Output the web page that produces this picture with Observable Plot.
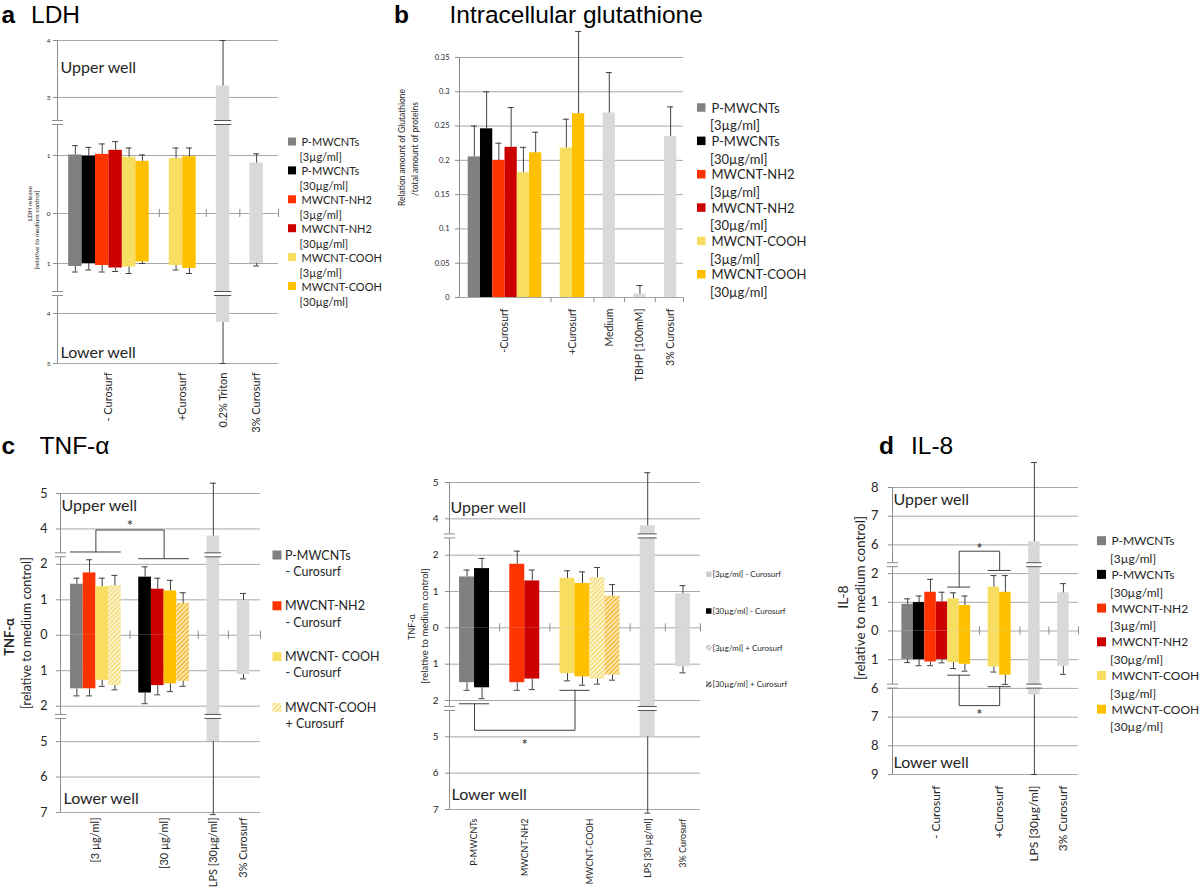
<!DOCTYPE html>
<html>
<head>
<meta charset="utf-8">
<script src="https://cdn.jsdelivr.net/npm/d3@7"></script>
<script src="https://cdn.jsdelivr.net/npm/@observablehq/plot@0.6"></script>
<style>
  html, body { margin: 0; padding: 0; background: #fff; overflow: hidden; }
  #root { position: relative; width: 1200px; height: 890px; overflow: hidden; background: #fff; }
</style>
</head>
<body>
<svg width="0" height="0" style="position:absolute">
  <defs>
    <pattern id="hatchLight" width="3.2" height="3.2" patternUnits="userSpaceOnUse" patternTransform="rotate(45)">
      <rect width="3.2" height="3.2" fill="#fdf5d2"/>
      <rect width="1.3" height="3.2" fill="#f4db6c"/>
    </pattern>
    <pattern id="hatchGold" width="3.2" height="3.2" patternUnits="userSpaceOnUse" patternTransform="rotate(45)">
      <rect width="3.2" height="3.2" fill="#fde9b4"/>
      <rect width="1.3" height="3.2" fill="#f2b32a"/>
    </pattern>
    <pattern id="hatchGray" width="3" height="3" patternUnits="userSpaceOnUse" patternTransform="rotate(45)">
      <rect width="3" height="3" fill="#f2f2f2"/>
      <rect width="1.2" height="3" fill="#b0b0b0"/>
    </pattern>
    <pattern id="hatchDark" width="3" height="3" patternUnits="userSpaceOnUse" patternTransform="rotate(45)">
      <rect width="3" height="3" fill="#dcdcdc"/>
      <rect width="1.2" height="3" fill="#2a2a2a"/>
    </pattern>
  </defs>
</svg>
<div id="root"></div>
<script>
// ---------------- series / legend ----------------
const seriesKey  = ["P3", "P30", "N3", "N30", "C3", "C30", "C3h", "C30h", "ctrl"];
const seriesFill = ["#808080", "#000000", "#ff3300", "#cc0000", "#f8de60", "#ffc000", "url(#hatchLight)", "url(#hatchGold)", "#d9d9d9"];
const legendNames = ["P-MWCNTs", "P-MWCNTs", "MWCNT-NH2", "MWCNT-NH2", "MWCNT-COOH", "MWCNT-COOH"];
const legendDoses = ["[3µg/ml]", "[30µg/ml]", "[3µg/ml]", "[30µg/ml]", "[3µg/ml]", "[30µg/ml]"];

// ---------------- a: LDH ----------------
const ldhCategories = ["- Curosurf", "+Curosurf", "0.2% Triton", "3% Curosurf"];
const ldhCategory = ["- Curosurf", "- Curosurf", "- Curosurf", "- Curosurf", "- Curosurf", "- Curosurf", "+Curosurf", "+Curosurf", "0.2% Triton", "3% Curosurf"];
const ldhSeries  = ["P3", "P30", "N3", "N30", "C3", "C30", "C3", "C30", "ctrl", "ctrl"];
const ldhUpper   = [1.01, 0.99, 1.02, 1.09, 0.97, 0.90, 0.95, 0.98, 3.20, 0.87];
const ldhUpperSD = [0.16, 0.15, 0.18, 0.15, 0.16, 0.11, 0.18, 0.15, 0.80, 0.16];
const ldhLower   = [1.06, 1.00, 1.04, 1.09, 1.07, 0.97, 1.04, 1.10, 4.18, 1.00];
const ldhLowerSD = [0.11, 0.13, 0.13, 0.07, 0.13, 0.03, 0.09, 0.10, 0.82, 0.05];
const ldhTicks   = [4, 3, 1, 0, -1, -4, -5];

// ---------------- b: glutathione ----------------
const gshCategories = ["-Curosurf", "+Curosurf", "Medium", "TBHP [100mM]", "3% Curosurf"];
const gshCategory = ["-Curosurf", "-Curosurf", "-Curosurf", "-Curosurf", "-Curosurf", "-Curosurf", "+Curosurf", "+Curosurf", "Medium", "TBHP [100mM]", "3% Curosurf"];
const gshSeries = ["P3", "P30", "N3", "N30", "C3", "C30", "C3", "C30", "ctrl", "ctrl", "ctrl"];
const gshValue  = [0.205, 0.246, 0.200, 0.219, 0.182, 0.211, 0.218, 0.268, 0.269, 0.005, 0.235];
const gshSD     = [0.045, 0.054, 0.025, 0.058, 0.037, 0.030, 0.042, 0.120, 0.059, 0.0125, 0.043];
const gshTicks  = [0, 0.05, 0.1, 0.15, 0.2, 0.25, 0.3, 0.35];

// ---------------- c (left): TNF-α by dose ----------------
const tnfACategories = ["[3 µg/ml]", "[30 µg/ml]", "LPS [30µg/ml]", "3% Curosurf"];
const tnfACategory = ["[3 µg/ml]", "[3 µg/ml]", "[3 µg/ml]", "[3 µg/ml]", "[30 µg/ml]", "[30 µg/ml]", "[30 µg/ml]", "[30 µg/ml]", "LPS [30µg/ml]", "3% Curosurf"];
const tnfASeries  = ["P3", "N3", "C3", "C3h", "P30", "N30", "C30", "C30h", "ctrl", "ctrl"];
const tnfAUpper   = [1.44, 1.76, 1.37, 1.40, 1.64, 1.30, 1.25, 0.90, 3.80, 0.98];
const tnfAUpperSD = [0.17, 0.37, 0.24, 0.29, 0.29, 0.31, 0.30, 0.30, 1.49, 0.20];
const tnfALower   = [1.51, 1.51, 1.27, 1.42, 1.63, 1.42, 1.37, 1.30, 5.00, 1.11];
const tnfALowerSD = [0.20, 0.20, 0.17, 0.12, 0.30, 0.26, 0.22, 0.14, 2.06, 0.12];
const tnfTicks    = [5, 4, 2, 1, 0, -1, -2, -5, -6, -7];
const tnfALegendKeys  = ["P3", "N3", "C3", "C3h"];
const tnfALegendLine1 = ["P-MWCNTs", "MWCNT-NH2", "MWCNT- COOH", "MWCNT-COOH"];
const tnfALegendLine2 = ["- Curosurf", "- Curosurf", "- Curosurf", "+ Curosurf"];

// ---------------- c (right): TNF-α by material ----------------
const tnfBCategories = ["P-MWCNTs", "MWCNT-NH2", "MWCNT-COOH", "LPS [30 µg/ml]", "3% Curosurf"];
const tnfBCategory = ["P-MWCNTs", "P-MWCNTs", "MWCNT-NH2", "MWCNT-NH2", "MWCNT-COOH", "MWCNT-COOH", "MWCNT-COOH", "MWCNT-COOH", "LPS [30 µg/ml]", "3% Curosurf"];
const tnfBSeries  = ["P3", "P30", "N3", "N30", "C3", "C30", "C3h", "C30h", "ctrl", "ctrl"];
const tnfBUpper   = [1.40, 1.63, 1.75, 1.29, 1.36, 1.22, 1.38, 0.87, 3.81, 0.94];
const tnfBUpperSD = [0.19, 0.28, 0.36, 0.30, 0.21, 0.32, 0.28, 0.32, 1.46, 0.22];
const tnfBLower   = [1.51, 1.65, 1.51, 1.41, 1.26, 1.35, 1.41, 1.30, 5.00, 1.07];
const tnfBLowerSD = [0.21, 0.30, 0.21, 0.29, 0.20, 0.23, 0.14, 0.14, 2.10, 0.17];
const tnfBLegendText = ["[3µg/ml] - Curosurf", "[30µg/ml] - Curosurf", "[3µg/ml] + Curosurf", "[30µg/ml] + Curosurf"];
const tnfBLegendFill = ["#cfcfcf", "#000000", "url(#hatchGray)", "url(#hatchDark)"];

// ---------------- d: IL-8 ----------------
const il8Categories = ["- Curosurf", "+Curosurf", "LPS [30µg/ml]", "3% Curosurf"];
const il8Category = ["- Curosurf", "- Curosurf", "- Curosurf", "- Curosurf", "- Curosurf", "- Curosurf", "+Curosurf", "+Curosurf", "LPS [30µg/ml]", "3% Curosurf"];
const il8Series  = ["P3", "P30", "N3", "N30", "C3", "C30", "C3", "C30", "ctrl", "ctrl"];
const il8Upper   = [0.93, 0.99, 1.35, 1.01, 1.12, 0.89, 1.53, 1.35, 6.11, 1.33];
const il8UpperSD = [0.19, 0.23, 0.45, 0.34, 0.21, 0.33, 0.40, 0.58, 2.76, 0.32];
const il8Lower   = [0.99, 1.00, 1.08, 1.00, 1.10, 1.16, 1.25, 1.54, 6.23, 1.23];
const il8LowerSD = [0.11, 0.21, 0.13, 0.11, 0.21, 0.24, 0.18, 0.32, 2.77, 0.28];
const il8Ticks   = [8, 7, 6, 2, 1, 0, -1, -6, -7, -8, -9];

// significance brackets (levels in data units; negative = lower well)
const tnfABrackets = [{from: ["[3 µg/ml]", 0, 3], to: ["[30 µg/ml]", 0, 3], levelFrom: 3.35, levelTo: 2.16, peak: 3.97, starDy: -3.5}];
const tnfBBrackets = [{from: ["P-MWCNTs", 0, 1], to: ["MWCNT-COOH", 0, 1], levelFrom: -2.09, levelTo: -1.72, peak: -4.82, starDy: 15}];
const il8Brackets = [
  {from: ["- Curosurf", 4, 5], to: ["+Curosurf", 0, 1], levelFrom: 1.53, levelTo: 2.11, peak: 5.78, starDy: -2},
  {from: ["- Curosurf", 4, 5], to: ["+Curosurf", 0, 1], levelFrom: -1.54, levelTo: -5.94, peak: -6.6, starDy: 10}
];

// ---------------- drawing ----------------
const GRID = "#a8a8a8", AXIS = "#8c8c8c", TXT = "#262626", ERR = "#404040", BRK = "#555555";
const root = document.getElementById("root");

function drawChart(cfg) {
  const F = cfg.frame;
  const mL = 70, mR = 14, mT = 45, mB = 95;
  const width = F.x1 - F.x0 + mL + mR;
  const height = F.yBot - F.yTop + mT + mB;
  const cats = cfg.categories;
  const counts = cats.map(c => cfg.category.filter(k => k === c).length);
  const start = [];
  let pos = cfg.padL;
  cats.forEach((c, j) => { start.push(pos); pos += counts[j] + (j < cats.length - 1 ? cfg.gap : 0); });
  const total = pos + cfg.padR;
  const seen = {};
  const rows = cfg.category.map((c, i) => {
    const j = cats.indexOf(c);
    const k = seen[c] = (seen[c] === undefined ? 0 : seen[c] + 1);
    const a = start[j] + k;
    return {cat: c, series: cfg.series[i], x1: a, x2: a + 1, xc: a + 0.5,
      up: cfg.upper[i], upSD: cfg.upperSD[i],
      lo: cfg.lower ? cfg.lower[i] : null, loSD: cfg.lowerSD ? cfg.lowerSD[i] : null};
  });
  const lowRows = rows.filter(d => d.lo != null);
  const centers = cats.map((c, j) => ({cat: c, x: start[j] + counts[j] / 2}));
  const bounds = cats.map((c, j) => j < cats.length - 1 ? start[j] + counts[j] + cfg.gap / 2 : total);
  const fy = cfg.yDomain ? d3.scaleLinear().domain(cfg.yDomain).range(cfg.yRange) : d3.scaleIdentity();
  const tickD = cfg.ticks.map(v => fy(v));
  const labelOf = new Map(cfg.ticks.map((v, i) => [tickD[i], String(Math.abs(v))]));
  const dmin = d3.min(tickD), dmax = d3.max(tickD);
  const flat = cfg.yRange ? cfg.yRange.filter((v, i, a) => a.indexOf(v) !== i) : [];
  const bLo = flat.find(v => v < 0), bUp = flat.find(v => v > 0);

  const breakRows = [];
  rows.forEach(d => {
    if (bUp !== undefined && fy(d.up) > bUp) breakRows.push({x1: d.x1, x2: d.x2, y: bUp});
    if (bLo !== undefined && d.lo != null && fy(-d.lo) < bLo) breakRows.push({x1: d.x1, x2: d.x2, y: bLo});
  });
  const axisBreaks = flat.map(y => ({x1: 0, x2: 0, y}));
  const cap = cfg.cap || 3;

  const marks = [
    Plot.ruleY(tickD, {stroke: GRID, strokeWidth: 1}),
    Plot.ruleX([0], {y1: dmin, y2: dmax, stroke: AXIS}),
    Plot.ruleX(bounds, {y1: 0, y2: 0, insetTop: cfg.zeroUp, insetBottom: cfg.zeroDown, stroke: AXIS}),
    Plot.rect(rows, {x1: "x1", x2: "x2", y1: 0, y2: d => fy(d.up), fill: "series"}),
    Plot.rect(lowRows, {x1: "x1", x2: "x2", y1: 0, y2: d => fy(-d.lo), fill: "series"}),
    // axis breaks
    Plot.ruleY(breakRows, {x1: "x1", x2: "x2", y: "y", stroke: "white", strokeWidth: 4, insetLeft: -2, insetRight: -2}),
    Plot.ruleY(breakRows, {x1: "x1", x2: "x2", y: "y", stroke: BRK, dy: -2, insetLeft: -2, insetRight: -2}),
    Plot.ruleY(breakRows, {x1: "x1", x2: "x2", y: "y", stroke: BRK, dy: 2, insetLeft: -2, insetRight: -2}),
    Plot.ruleY(axisBreaks, {x1: "x1", x2: "x2", y: "y", stroke: "white", strokeWidth: 4, insetLeft: -5, insetRight: -6}),
    Plot.ruleY(axisBreaks, {x1: "x1", x2: "x2", y: "y", stroke: AXIS, dy: -2, insetLeft: -5, insetRight: -6}),
    Plot.ruleY(axisBreaks, {x1: "x1", x2: "x2", y: "y", stroke: AXIS, dy: 2, insetLeft: -5, insetRight: -6}),
    // error bars
    Plot.ruleX(rows, {x: "xc", y1: d => fy(d.up), y2: d => fy(d.up + d.upSD), stroke: ERR}),
    Plot.ruleY(rows, {x1: "xc", x2: "xc", y: d => fy(d.up + d.upSD), insetLeft: -cap, insetRight: -cap, stroke: ERR}),
    Plot.ruleX(lowRows, {x: "xc", y1: d => fy(-d.lo), y2: d => fy(-(d.lo + d.loSD)), stroke: ERR}),
    Plot.ruleY(lowRows, {x1: "xc", x2: "xc", y: d => fy(-(d.lo + d.loSD)), insetLeft: -cap, insetRight: -cap, stroke: ERR}),
    // axes
    Plot.axisY(tickD, {tickFormat: t => labelOf.get(t), tickSize: 4, tickPadding: cfg.tickPad, fontSize: cfg.tickFont, fill: TXT, stroke: AXIS, label: null}),
    Plot.text(centers, {x: "x", text: "cat", frameAnchor: "bottom", rotate: -90, textAnchor: "end", lineAnchor: "middle", dy: cfg.catDy, fontSize: cfg.catFont, fill: TXT})
  ];
  if (cfg.wells) {
    marks.push(
      Plot.text(["Upper well"], {text: d => d, frameAnchor: "top-left", textAnchor: "start", lineAnchor: "middle", dx: cfg.wells.up[0], dy: cfg.wells.up[1], fontSize: 16, fill: TXT}),
      Plot.text(["Lower well"], {text: d => d, frameAnchor: "bottom-left", textAnchor: "start", lineAnchor: "middle", dx: cfg.wells.lo[0], dy: cfg.wells.lo[1], fontSize: 16, fill: TXT})
    );
  }
  const spanOf = ([cat, from, to]) => { const j = cats.indexOf(cat); return [start[j] + from, start[j] + to + 1]; };
  for (const b of cfg.brackets || []) {
    const A = spanOf(b.from), B = spanOf(b.to);
    const ca = (A[0] + A[1]) / 2, cb = (B[0] + B[1]) / 2;
    marks.push(
      Plot.ruleY([{x1: A[0], x2: A[1], y: fy(b.levelFrom)}, {x1: B[0], x2: B[1], y: fy(b.levelTo)}], {x1: "x1", x2: "x2", y: "y", stroke: ERR}),
      Plot.line([[ca, fy(b.levelFrom)], [ca, fy(b.peak)], [cb, fy(b.peak)], [cb, fy(b.levelTo)]], {x: d => d[0], y: d => d[1], stroke: ERR, strokeWidth: 1}),
      Plot.text([b], {x: () => (ca + cb) / 2, y: () => fy(b.peak), text: () => "*", lineAnchor: "middle", dy: b.starDy, fontSize: 15, fill: TXT})
    );
  }
  const plot = Plot.plot({
    width, height, marginLeft: mL, marginRight: mR, marginTop: mT, marginBottom: mB,
    style: "background: transparent; overflow: visible; max-width: none; font-family: Lato, sans-serif;",
    x: {domain: [0, total], axis: null},
    y: {domain: [dmin, dmax], axis: null},
    color: {type: "ordinal", domain: seriesKey, range: seriesFill},
    marks
  });
  const holder = document.createElement("div");
  holder.style.cssText = `position:absolute;left:${F.x0 - mL}px;top:${F.yTop - mT}px;`;
  holder.appendChild(plot);
  root.appendChild(holder);
}

drawChart({
  frame: {x0: 57, x1: 278, yTop: 40, yBot: 363},
  categories: ldhCategories, category: ldhCategory, series: ldhSeries,
  upper: ldhUpper, upperSD: ldhUpperSD, lower: ldhLower, lowerSD: ldhLowerSD,
  ticks: ldhTicks, yDomain: [-5, -3.6, -1.6, 0, 1.57, 2.56, 4], yRange: [-150, -80, -80, 0, 91, 91, 173],
  padL: 0.83, gap: 1.5, padR: 1.13, tickFont: 6.5, tickPad: 3, catFont: 11, catDy: 9,
  zeroUp: -4, zeroDown: -4, wells: {up: [3, 27], lo: [3, -11]}, cap: 3
});
drawChart({
  frame: {x0: 459, x1: 683, yTop: 57, yBot: 297},
  categories: gshCategories, category: gshCategory, series: gshSeries,
  upper: gshValue, upperSD: gshSD,
  ticks: gshTicks,
  padL: 0.71, gap: 1.5, padR: 0.55, tickFont: 7.5, tickPad: 6, catFont: 10.5, catDy: 11,
  zeroUp: 0, zeroDown: -5, cap: 3
});
drawChart({
  frame: {x0: 60, x1: 260, yTop: 493, yBot: 812},
  categories: tnfACategories, category: tnfACategory, series: tnfASeries,
  upper: tnfAUpper, upperSD: tnfAUpperSD, lower: tnfALower, lowerSD: tnfALowerSD,
  ticks: tnfTicks, yDomain: [-7, -4.29, -2.29, 0, 2.27, 3.27, 5], yRange: [-5, -2.29, -2.29, 0, 2.27, 2.27, 4],
  padL: 0.79, gap: 1.38, padR: 0.84, tickFont: 12.5, tickPad: 9, catFont: 11, catDy: 5,
  zeroUp: -4, zeroDown: -4, wells: {up: [1, 12], lo: [3, -14]}, cap: 3, brackets: tnfABrackets
});
drawChart({
  frame: {x0: 449, x1: 700, yTop: 482, yBot: 809},
  categories: tnfBCategories, category: tnfBCategory, series: tnfBSeries,
  upper: tnfBUpper, upperSD: tnfBUpperSD, lower: tnfBLower, lowerSD: tnfBLowerSD,
  ticks: tnfTicks, yDomain: [-7, -4.22, -2.22, 0, 2.53, 3.53, 5], yRange: [-5, -2.22, -2.22, 0, 2.53, 2.53, 4],
  padL: 0.67, gap: 1.35, padR: 0.67, tickFont: 10, tickPad: 7, catFont: 9, catDy: 9,
  zeroUp: -4, zeroDown: -4, wells: {up: [1, 25], lo: [2, -15]}, cap: 3, brackets: tnfBBrackets
});
drawChart({
  frame: {x0: 892, x1: 1078, yTop: 487, yBot: 774},
  categories: il8Categories, category: il8Category, series: il8Series,
  upper: il8Upper, upperSD: il8UpperSD, lower: il8Lower, lowerSD: il8LowerSD,
  ticks: il8Ticks, yDomain: [-9, -5.92, -1.92, 0, 2.31, 5.31, 8], yRange: [-5, -1.92, -1.92, 0, 2.31, 2.31, 5],
  padL: 0.82, gap: 1.53, padR: 0.82, tickFont: 13, tickPad: 10, catFont: 12, catDy: 11,
  zeroUp: -4, zeroDown: -4, wells: {up: [1, 12], lo: [1, -12]}, cap: 3, brackets: il8Brackets
});

// ---------------- overlay: titles, axis titles, legends ----------------
const ov = d3.select(root).append("svg")
  .attr("width", 1200).attr("height", 890)
  .style("position", "absolute").style("left", "0px").style("top", "0px").style("overflow", "visible");

function txt(s, x, y, o = {}) {
  const t = ov.append("text").attr("x", x).attr("y", y).text(s)
    .attr("font-family", o.family || "Lato, sans-serif")
    .attr("font-size", o.size || 12)
    .attr("fill", o.fill || TXT)
    .attr("text-anchor", o.anchor || "start");
  if (o.weight) t.attr("font-weight", o.weight);
  if (o.baseline) t.attr("dominant-baseline", o.baseline);
  if (o.rotate) t.attr("transform", `rotate(${o.rotate},${x},${y})`);
  return t;
}
const TF = "'Liberation Sans', Arial, sans-serif";
txt("a", 1.5, 22.5, {family: TF, size: 24.5, weight: "bold", fill: "#000"});
txt("LDH", 31, 22.5, {family: TF, size: 24.5, fill: "#000"});
txt("b", 394, 22.5, {family: TF, size: 24.5, weight: "bold", fill: "#000"});
txt("Intracellular glutathione", 449.5, 22.5, {family: TF, size: 24.5, fill: "#000"});
txt("c", 1.5, 454, {family: TF, size: 24.5, weight: "bold", fill: "#000"});
txt("TNF-α", 39.5, 454, {family: TF, size: 24.5, fill: "#000"});
txt("d", 879, 454, {family: TF, size: 24.5, weight: "bold", fill: "#000"});
txt("IL-8", 911, 454, {family: TF, size: 24.5, fill: "#000"});

// axis titles
const rc = {rotate: -90, anchor: "middle", baseline: "central"};
txt("LDH release", 29, 203.5, {...rc, size: 6.5});
txt("[relative to medium control]", 36, 230, {...rc, size: 6.5});
txt("Relation amount of Glutathione", 401.5, 147.5, {...rc, size: 8.5});
txt("/total amount of  proteins", 414.5, 149, {...rc, size: 8.5});
txt("TNF-α", 9, 637, {...rc, size: 13, weight: "bold"});
txt("[relative to medium control]", 26, 633, {...rc, size: 12.5});
txt("TNF-α", 411.5, 627, {...rc, size: 9});
txt("[relative to medium control]", 424, 626, {...rc, size: 9.5});
txt("IL-8", 842, 597, {...rc, size: 14});
txt("[relative to medium control]", 860, 598, {...rc, size: 13.5});

function legend(items, o) {
  items.forEach((it, i) => {
    const cy = o.y0 + i * o.step;
    ov.append("rect").attr("x", o.sx).attr("y", cy - o.size / 2).attr("width", o.size).attr("height", o.size).attr("fill", it.fill);
    txt(it.line1, o.tx, cy, {size: o.font, baseline: "central"});
    if (it.line2) txt(it.line2, o.tx2, cy + o.gap, {size: o.font, baseline: "central"});
  });
}
const sixItems = legendNames.map((n, i) => ({fill: seriesFill[i], line1: n, line2: legendDoses[i]}));
legend(sixItems, {sx: 288, size: 8, tx: 301.5, tx2: 299.5, y0: 141.5, step: 28.9, gap: 15, font: 11});
legend(sixItems, {sx: 697, size: 8.5, tx: 711.5, tx2: 710, y0: 107.5, step: 33.35, gap: 17.7, font: 13});
legend(sixItems, {sx: 1097, size: 9, tx: 1111.5, tx2: 1110, y0: 540.7, step: 33.7, gap: 17.6, font: 12});
legend(tnfALegendKeys.map((k, i) => ({fill: seriesFill[seriesKey.indexOf(k)], line1: tnfALegendLine1[i], line2: tnfALegendLine2[i]})),
  {sx: 272.5, size: 9, tx: 285, tx2: 285.5, y0: 555, step: 50.8, gap: 16.3, font: 12.5});
legend(tnfBLegendText.map((t, i) => ({fill: tnfBLegendFill[i], line1: t})),
  {sx: 706, size: 5.5, tx: 712.5, y0: 574.3, step: 36.7, font: 8});
</script>
</body>
</html>
